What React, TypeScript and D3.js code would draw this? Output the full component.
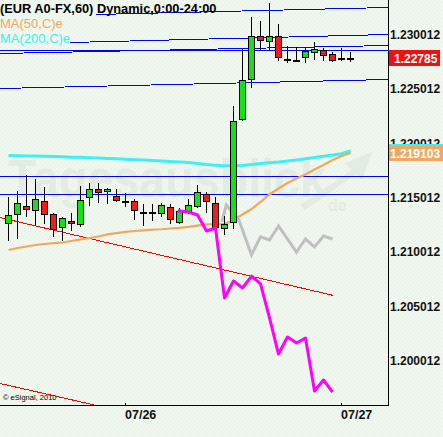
import React from 'react';
import * as d3 from 'd3';

const W = 443;
const H = 437;
const PLOT_RIGHT = 388;
const PLOT_BOTTOM = 405;

// hourly candles, index 0..38
const opens = [1.21268, 1.21346, 1.21422, 1.21382, 1.21468, 1.21346, 1.21226, 1.21284, 1.21254, 1.21508, 1.21576, 1.21557, 1.21511, 1.21472, 1.21465, 1.2137, 1.2137, 1.21355, 1.2141, 1.21272, 1.21373, 1.21419, 1.21528, 1.21447, 1.21217, 1.21272, 1.2222, 1.22589, 1.22985, 1.22939, 1.22985, 1.22779, 1.2277, 1.22791, 1.22837, 1.22856, 1.22819, 1.22784, 1.22787];
const highs = [1.21508, 1.2156, 1.21707, 1.21671, 1.216, 1.2136, 1.21324, 1.2136, 1.21609, 1.21631, 1.21631, 1.21585, 1.21579, 1.21542, 1.21486, 1.21443, 1.21443, 1.21447, 1.21443, 1.21406, 1.21486, 1.21615, 1.21551, 1.21505, 1.21333, 1.22343, 1.22865, 1.2316, 1.23126, 1.23291, 1.23095, 1.22893, 1.22883, 1.22883, 1.22929, 1.22874, 1.22837, 1.22874, 1.22837];
const lows = [1.21103, 1.21118, 1.21324, 1.21238, 1.21254, 1.21139, 1.211, 1.21192, 1.21226, 1.21425, 1.21447, 1.21438, 1.21462, 1.21413, 1.21293, 1.21241, 1.21287, 1.21324, 1.21254, 1.21256, 1.21346, 1.21406, 1.21362, 1.21183, 1.21152, 1.21208, 1.22207, 1.22504, 1.22849, 1.22849, 1.22754, 1.22736, 1.22754, 1.22736, 1.22764, 1.22754, 1.22745, 1.22754, 1.22745];
const closes = [1.21339, 1.2145, 1.21392, 1.21484, 1.21346, 1.21213, 1.21309, 1.21263, 1.21475, 1.21579, 1.21554, 1.21576, 1.21475, 1.21468, 1.21382, 1.21368, 1.21368, 1.21431, 1.213, 1.21373, 1.21431, 1.21548, 1.21465, 1.21226, 1.21259, 1.22207, 1.22582, 1.22985, 1.22951, 1.22985, 1.22791, 1.22775, 1.22766, 1.22847, 1.22865, 1.2281, 1.22764, 1.2278, 1.22785];

const ma50 = [1.21017, 1.21035, 1.21049, 1.21063, 1.21072, 1.21081, 1.21086, 1.211, 1.21114, 1.21127, 1.21141, 1.2116, 1.21173, 1.21183, 1.21192, 1.21198, 1.21204, 1.21208, 1.21215, 1.21221, 1.2123, 1.21242, 1.21252, 1.21256, 1.21256, 1.21293, 1.21344, 1.21394, 1.21459, 1.21528, 1.21583, 1.21634, 1.21675, 1.21712, 1.21758, 1.218, 1.21846, 1.21882, 1.2191];
const ma200 = [1.21887, 1.21885, 1.21883, 1.21882, 1.2188, 1.21878, 1.21875, 1.21872, 1.2187, 1.21867, 1.21864, 1.2186, 1.21857, 1.21853, 1.21849, 1.21846, 1.21841, 1.21836, 1.21832, 1.21827, 1.21823, 1.21813, 1.21804, 1.21798, 1.21792, 1.21792, 1.21795, 1.21804, 1.21813, 1.2182, 1.21827, 1.21836, 1.21846, 1.21857, 1.21869, 1.2188, 1.21892, 1.21904, 1.21928];

// magenta projection
const projIdx = [18.8, 20, 21, 22, 23, 24, 25, 26, 27, 28, 29, 30, 31, 32, 33, 34, 35, 36];
const projVals = [1.21379, 1.21367, 1.21339, 1.21192, 1.21219, 1.20575, 1.20731, 1.20667, 1.20777, 1.20705, 1.20391, 1.20059, 1.20216, 1.20161, 1.20207, 1.19719, 1.1982, 1.19709];

// grey analog line
const grayIdx = [23.7, 24.2, 25.6, 27, 28, 29, 30, 32, 33, 34, 35, 36];
const grayVals = [1.21275, 1.21431, 1.21293, 1.20971, 1.21137, 1.21109, 1.21238, 1.20998, 1.21118, 1.21045, 1.21146, 1.21118];

// blue trend / level lines (start index, start price, end index, end price)
const blueX1 = [9.67, 6.83, -0.95, -0.95, -0.95, -0.95, -0.95];
const blueP1 = [1.2319, 1.22928, 1.22835, 1.22857, 1.22513, 1.21698, 1.21531];
const blueX2 = [42.17, 42.17, 42.17, 42.17, 42.17, 42.17, 42.17];
const blueP2 = [1.23254, 1.23002, 1.22902, 1.22857, 1.22589, 1.21698, 1.21531];

// red trend lines
const redX1 = [-0.95, -0.95];
const redP1 = [1.21315, 1.19788];
const redX2 = [36.02, 9.53];
const redP2 = [1.206, 1.1959];

const yTicks = [1.230012, 1.225012, 1.220012, 1.215012, 1.210012, 1.205012, 1.200012];
const xTickIdx = [13, 37];
const xTickLabels = ['07/26', '07/27'];

const title = '(EUR A0-FX,60) Dynamic,0:00-24:00';
const legend50 = 'MA(50,C)e';
const legend200 = 'MA(200,C)e';
const lastPrice = 1.22785;
const ma50Label = '1.219103';

const x = d3.scaleLinear().domain([0, 38]).range([8.5, 350.5]);
const y = d3.scaleLinear().domain([1.230012, 1.200012]).range([34.5, 360.3]);

const GREEN = '#16e016';
const RED = '#ee1c1c';

export default function App() {
  const line = d3
    .line<number>()
    .x((_, i) => x(i))
    .y((d) => y(d));
  const lineXY = d3
    .line<[number, number]>()
    .x((d) => x(d[0]))
    .y((d) => y(d[1]));

  const font = 'Liberation Sans, Arial, sans-serif';
  const snap = (v: number) => Math.round(v) + 0.5;

  return (
    <svg
      width={W}
      height={H}
      style={{ position: 'absolute', left: 0, top: 0, display: 'block' }}
      fontFamily={font}
    >
      <defs>
        <pattern id="hatch" width="4" height="4" patternUnits="userSpaceOnUse">
          <rect width="4" height="4" fill="#eff7ef" />
          <path d="M0,4 L4,0" stroke="#e8f2e8" strokeWidth="1" />
        </pattern>
        <clipPath id="plot">
          <rect x={0} y={0} width={PLOT_RIGHT} height={PLOT_BOTTOM} />
        </clipPath>
      </defs>
      <rect width={W} height={H} fill="url(#hatch)" />

      {/* watermark */}
      <g fill="#e3ece3" fontWeight="bold">
        <text x={8} y={197} fontSize={54} textLength={318} lengthAdjust="spacingAndGlyphs">
          Tagesausblick
        </text>
        <text x={328} y={211} fontSize={16}>de</text>
        <path d="M300,205 L352,170 L345,163 L372,152 L362,180 L356,174 L305,210 Z" />
      </g>

      <g clipPath="url(#plot)">
        {/* blue lines */}
        {blueP1.map((p, i) => (
          <line
            key={'b' + i}
            x1={x(blueX1[i])}
            y1={snap(y(p))}
            x2={x(blueX2[i])}
            y2={snap(y(blueP2[i]))}
            stroke="#0000ff"
            strokeWidth={1}
            shapeRendering="crispEdges"
          />
        ))}
        {/* red lines */}
        {redP1.map((p, i) => (
          <line
            key={'r' + i}
            x1={x(redX1[i])}
            y1={y(p)}
            x2={x(redX2[i])}
            y2={y(redP2[i])}
            stroke="#ff0000"
            strokeWidth={1}
            shapeRendering="crispEdges"
          />
        ))}

        {/* moving averages */}
        <path d={line(ma200) || ''} fill="none" stroke="#3ef0f0" strokeWidth={3} />
        <path d={line(ma50) || ''} fill="none" stroke="#f0a860" strokeWidth={2.2} />

        {/* grey analog */}
        <path
          d={lineXY(grayIdx.map((g, i) => [g, grayVals[i]] as [number, number])) || ''}
          fill="none"
          stroke="#c0c0c0"
          strokeWidth={3}
        />

        {/* candles */}
        {opens.map((o, i) => {
          const c = closes[i];
          const cx = x(i);
          const top = Math.round(y(Math.max(o, c)));
          const bot = Math.round(y(Math.min(o, c)));
          const h = Math.max(bot - top, 1);
          return (
            <g key={'c' + i}>
              <line
                x1={cx}
                x2={cx}
                y1={Math.round(y(highs[i]))}
                y2={Math.round(y(lows[i]))}
                stroke="#000"
                strokeWidth={1}
              />
              <rect
                x={cx - 3}
                y={top + 0.5}
                width={6}
                height={h}
                fill={c >= o ? GREEN : RED}
                stroke="#000"
                strokeWidth={1}
              />
            </g>
          );
        })}

        {/* magenta projection */}
        <path
          d={lineXY(projIdx.map((p, i) => [p, projVals[i]] as [number, number])) || ''}
          fill="none"
          stroke="#ff00ff"
          strokeWidth={3}
          strokeLinejoin="round"
        />
      </g>

      {/* axes */}
      <line x1={PLOT_RIGHT + 0.5} y1={0} x2={PLOT_RIGHT + 0.5} y2={PLOT_BOTTOM + 1} stroke="#000" />
      <line x1={0} y1={PLOT_BOTTOM + 0.5} x2={PLOT_RIGHT + 1} y2={PLOT_BOTTOM + 0.5} stroke="#000" />
      {xTickIdx.map((t, i) => (
        <g key={'xt' + i}>
          <line
            x1={Math.round(x(t)) - 0.5}
            x2={Math.round(x(t)) - 0.5}
            y1={PLOT_BOTTOM - 2}
            y2={PLOT_BOTTOM}
            stroke="#000"
          />
          <text x={Math.round(x(t)) - 1} y={419} fontSize={12.5} fontWeight="bold" fill="#111">
            {xTickLabels[i]}
          </text>
        </g>
      ))}
      {yTicks.map((t, i) => (
        <text key={'yt' + i} x={390} y={y(t) + 4.5} fontSize={12} fontWeight="bold" fill="#111">
          {t.toFixed(6)}
        </text>
      ))}

      {/* value labels */}
      <rect x={389} y={Math.round(y(ma200[ma200.length - 1])) - 7} width={54} height={15} fill="#3ef0f0" />
      <rect x={389} y={Math.round(y(ma50[ma50.length - 1])) - 7} width={54} height={15} fill="#f0a860" />
      <text x={390} y={Math.round(y(ma50[ma50.length - 1])) + 5} fontSize={12} fontWeight="bold" fill="#fff">
        {ma50Label}
      </text>
      <rect x={389} y={Math.round(y(lastPrice)) - 8} width={51} height={16} fill="#ee1111" />
      <text x={394} y={Math.round(y(lastPrice)) + 4.5} fontSize={12} fontWeight="bold" fill="#fff">
        {lastPrice.toFixed(5)}
      </text>

      {/* legend */}
      <text x={0} y={13} fontSize={12.8} fontWeight="bold" fill="#000">
        {title}
      </text>
      <text x={0} y={28} fontSize={13} fill="#f0a860">
        {legend50}
      </text>
      <text x={0} y={43} fontSize={13} fill="#3ef0f0">
        {legend200}
      </text>

      <text x={3} y={400} fontSize={7.5} fill="#000">
        © eSignal, 2010
      </text>
    </svg>
  );
}
